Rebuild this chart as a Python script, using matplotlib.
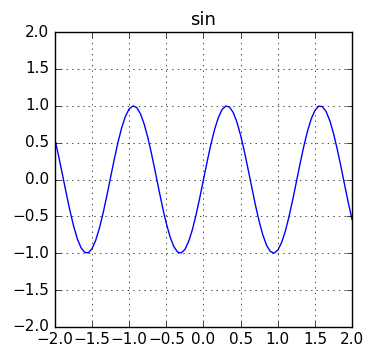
import matplotlib
matplotlib.use('Agg')
import matplotlib.pyplot as plt

# values, step 0.05
x = [-2.00, -1.95, -1.90, -1.85, -1.80, -1.75, -1.70, -1.65, -1.60, -1.55,
     -1.50, -1.45, -1.40, -1.35, -1.30, -1.25, -1.20, -1.15, -1.10, -1.05,
     -1.00, -0.95, -0.90, -0.85, -0.80, -0.75, -0.70, -0.65, -0.60, -0.55,
     -0.50, -0.45, -0.40, -0.35, -0.30, -0.25, -0.20, -0.15, -0.10, -0.05,
     0.00, 0.05, 0.10, 0.15, 0.20, 0.25, 0.30, 0.35, 0.40, 0.45,
     0.50, 0.55, 0.60, 0.65, 0.70, 0.75, 0.80, 0.85, 0.90, 0.95,
     1.00, 1.05, 1.10, 1.15, 1.20, 1.25, 1.30, 1.35, 1.40, 1.45,
     1.50, 1.55, 1.60, 1.65, 1.70, 1.75, 1.80, 1.85, 1.90, 1.95, 2.00]
y = [0.544, 0.320, 0.075, -0.174, -0.412, -0.625, -0.799, -0.923, -0.989, -0.995,
     -0.938, -0.823, -0.657, -0.450, -0.215, 0.033, 0.279, 0.508, 0.706, 0.859,
     0.959, 0.999, 0.978, 0.895, 0.757, 0.572, 0.351, 0.108, -0.141, -0.382,
     -0.598, -0.778, -0.909, -0.984, -0.997, -0.949, -0.841, -0.682, -0.479, -0.247,
     0.000, 0.247, 0.479, 0.682, 0.841, 0.949, 0.997, 0.984, 0.909, 0.778,
     0.598, 0.382, 0.141, -0.108, -0.351, -0.572, -0.757, -0.895, -0.978, -0.999,
     -0.959, -0.859, -0.706, -0.508, -0.279, -0.033, 0.215, 0.450, 0.657, 0.823,
     0.938, 0.995, 0.989, 0.923, 0.799, 0.625, 0.412, 0.174, -0.075, -0.320, -0.544]
ticks = [-2.0, -1.5, -1.0, -0.5, 0.0, 0.5, 1.0, 1.5, 2.0]

plt.style.use('classic')
plt.rcParams['font.size'] = 11

fig = plt.figure(figsize=(3.66, 3.53), dpi=100)
fig.subplots_adjust(left=0.150, right=0.962, top=0.909, bottom=0.074)
ax = fig.add_subplot(1, 1, 1)
ax.plot(x, y, color='b', linewidth=1.0)
ax.set_xlim(-2, 2)
ax.set_ylim(-2, 2)
ax.set_xticks(ticks)
ax.set_yticks(ticks)
ax.grid(True, linestyle=':', color='k')
ax.set_title('sin', fontsize=13)
ax.tick_params(labelsize=11)
fig.savefig('out.png', dpi=100)
